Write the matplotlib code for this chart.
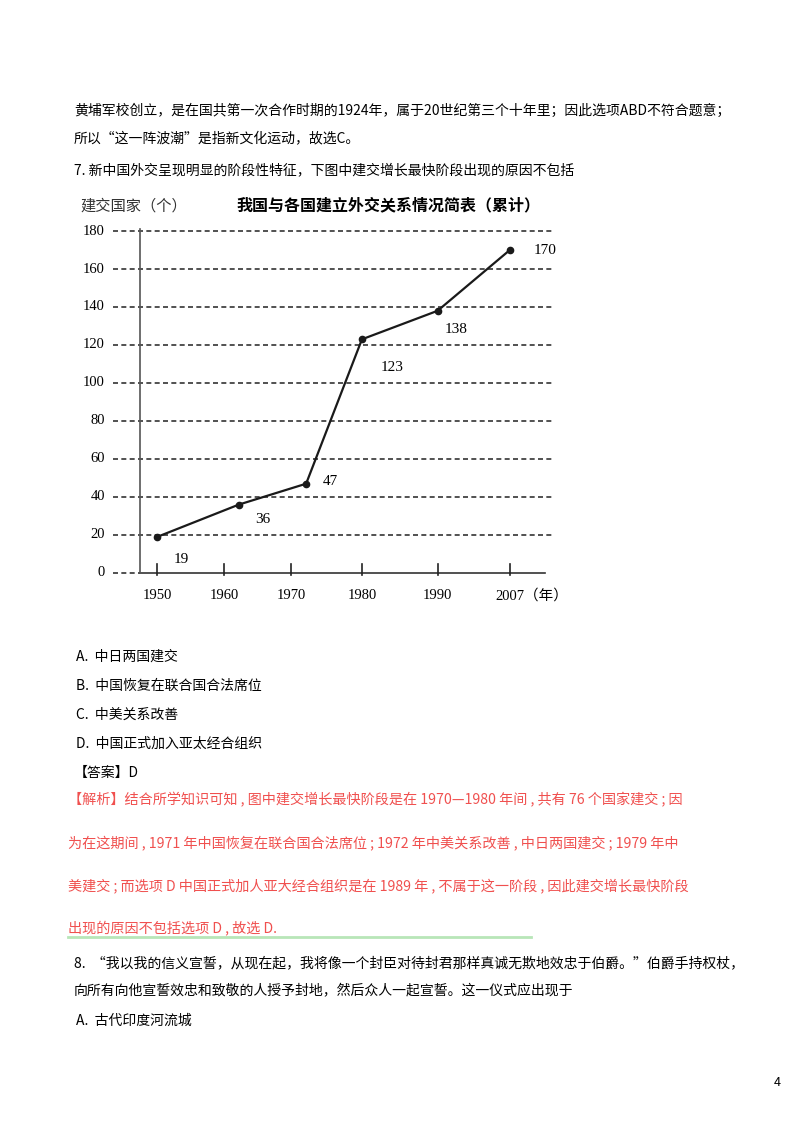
import matplotlib.pyplot as plt
import numpy as np

plt.rcParams['font.family'] = ['Noto Sans CJK SC', 'DejaVu Sans']

years = [1950, 1961, 1971, 1980, 1990, 2007]
counts = [19, 36, 47, 123, 138, 170]
tick_years = [1950, 1960, 1970, 1980, 1990, 2007]
tick_labels = ['1950', '1960', '1970', '1980', '1990', '2007（年）']
yticks = [0, 20, 40, 60, 80, 100, 120, 140, 160, 180]

# uneven spacing of the original x axis
tick_pos = [0, 1, 2, 3.06, 4.19, 5.27]
def xmap(y):
    return np.interp(y, tick_years, tick_pos) + (0.12 if y in (1961, 1971) else 0)

fig = plt.figure(figsize=(8, 11.32), dpi=100)

def txt(x, y, s, **kw):
    fig.text(x / 800, 1 - y / 1132, s, va='center', **kw)

txt(74, 111, '黄埔军校创立，是在国共第一次合作时期的1924年，属于20世纪第三个十年里；因此选项ABD不符合题意；', fontsize=10)
txt(74, 139, '所以“这一阵波潮”是指新文化运动，故选C。', fontsize=10)
txt(74, 170, '7. 新中国外交呈现明显的阶段性特征，下图中建交增长最快阶段出现的原因不包括', fontsize=10)

for i, s in enumerate(['A.  中日两国建交', 'B.  中国恢复在联合国合法席位', 'C.  中美关系改善', 'D.  中国正式加入亚太经合组织']):
    txt(76, 657 + i * 29, s, fontsize=10)
txt(74, 773, '【答案】D', fontsize=10)

red = '#f0504f'
reds = ['【解析】结合所学知识可知 , 图中建交增长最快阶段是在 1970—1980 年间 , 共有 76 个国家建交 ; 因',
        '为在这期间 , 1971 年中国恢复在联合国合法席位 ; 1972 年中美关系改善 , 中日两国建交 ; 1979 年中',
        '美建交 ; 而选项 D 中国正式加人亚大经合组织是在 1989 年 , 不属于这一阶段 , 因此建交增长最快阶段',
        '出现的原因不包括选项 D , 故选 D.']
for i, s in enumerate(reds):
    txt(68, 800 + i * 43, s, fontsize=10.2, color=red)
fig.add_artist(plt.Line2D([68 / 800, 531 / 800], [1 - 937 / 1132] * 2, color='#b8e6b8', lw=2))

txt(74, 963, '8.  “我以我的信义宣誓，从现在起，我将像一个封臣对待封君那样真诚无欺地效忠于伯爵。”伯爵手持权杖，', fontsize=10)
txt(74, 991, '向所有向他宣誓效忠和致敬的人授予封地，然后众人一起宣誓。这一仪式应出现于', fontsize=10)
txt(76, 1021, 'A.  古代印度河流城', fontsize=10)
txt(774, 1083, '4', fontsize=9)

# chart
ax = fig.add_axes([113 / 800, 1 - 573 / 1132, 439 / 800, 342 / 1132])
xl = (-0.66, 5.9)
ax.set_xlim(*xl)
ax.set_ylim(0, 180)
for s in ax.spines.values():
    s.set_visible(False)
yax = (140 - 157) / 67
for v in yticks[1:]:
    ax.plot(xl, [v, v], ls=(0, (3, 2)), color='#333333', lw=1.2, clip_on=False)
ax.plot([xl[0], yax], [0, 0], ls=(0, (3, 2)), color='#333333', lw=1.2, clip_on=False)
ax.plot([yax, xl[1] - 0.1], [0, 0], color='#333333', lw=1.2, clip_on=False)
ax.plot([yax, yax], [0, 181], color='#555555', lw=1.2, clip_on=False)
for t in tick_pos:
    ax.plot([t, t], [-1, 5], color='#222222', lw=1.2, clip_on=False)

xs = [xmap(y) for y in years]
ax.plot(xs, counts, color='#1a1a1a', lw=1.6, marker='o', ms=4.5)
offsets = [(0.25, -12), (0.25, -8), (0.25, 1), (0.28, -15), (0.1, -10), (0.35, 0)]
for x, c, (dx, dy) in zip(xs, counts, offsets):
    ax.text(x + dx, c + dy, str(c), fontsize=11, family='Liberation Serif', va='center')

ax.set_xticks([])
ax.set_yticks([])
for t, l in zip(tick_pos, tick_labels):
    ax.text(t - 0.22, -12, l, fontsize=10.5, family=['Liberation Serif', 'Noto Sans CJK SC'], va='center', ha='left')
for v in yticks:
    ax.text(xl[0] - 0.12, v, str(v), fontsize=10.5, family='Liberation Serif', va='center', ha='right')

txt(80, 206, '建交国家（个）', fontsize=11, color='#333333')
txt(236, 205, '我国与各国建立外交关系情况简表（累计）', fontsize=11.5, fontweight='bold')

fig.savefig('out.png')
